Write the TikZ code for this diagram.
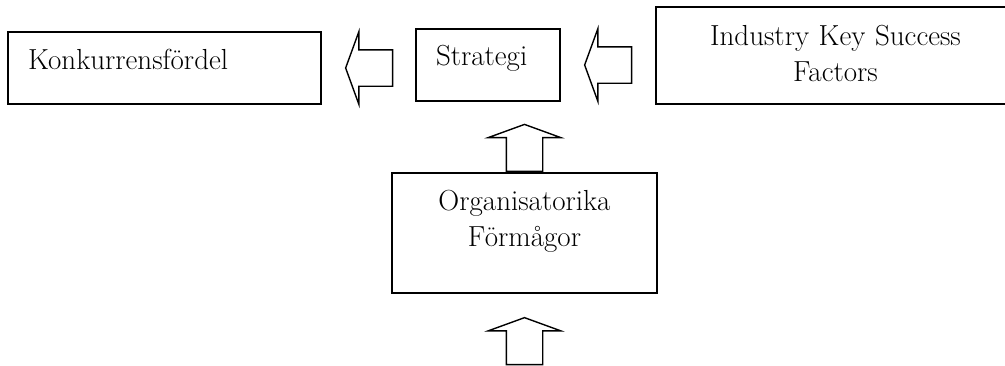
\documentclass[tikz,border=0pt]{standalone}
\usepackage{tikz}
\usetikzlibrary{shapes.arrows,positioning,calc}
\tikzset{
  box/.style={draw,line width=1.8pt,inner xsep=20pt,inner ysep=0pt,align=left,
    font=\fontsize{29pt}{36pt}\selectfont},
  cbox/.style={box,align=center,inner xsep=10pt},
  blockarrow/.style={draw,line width=1.4pt,single arrow,inner sep=17.5pt,
    text height=0pt,text depth=0pt,minimum height=47pt,minimum width=72pt,
    single arrow head extend=18pt,single arrow tip angle=140}
}
\begin{document}
\begin{tikzpicture}[x=1pt,y=-1pt]
\useasboundingbox[fill=white] (0,0) rectangle (1005,365);
\node[box,text width=273pt,text height=37pt,text depth=35pt] (konk) at (164.5,68) {Konkurrensfördel};
\node[box,text width=104pt,text height=36pt,text depth=36pt] (strat) at (488,65) {Strategi};
\node[cbox,text width=339pt,text height=38pt,text depth=59pt] (iksf) at (835.5,55.5) {Industry Key Success\\Factors};
\node[cbox,text width=245pt,text height=37pt,text depth=83pt] (org) at (524.5,233) {Organisatorika\\Förmågor};
% block arrows
\node[blockarrow,shape border rotate=180,anchor=tip] (a1) at ($(konk.east)+(23,0)$) {};
\node[blockarrow,shape border rotate=180,anchor=tip] (a2) at ($(strat.east)+(23,0)$) {};
\node[blockarrow,shape border rotate=90,anchor=tail] (a3) at (org.north) {};
\node[blockarrow,shape border rotate=90,anchor=tip] (a4) at ($(org.south)+(0,23)$) {};
\end{tikzpicture}
\end{document}
